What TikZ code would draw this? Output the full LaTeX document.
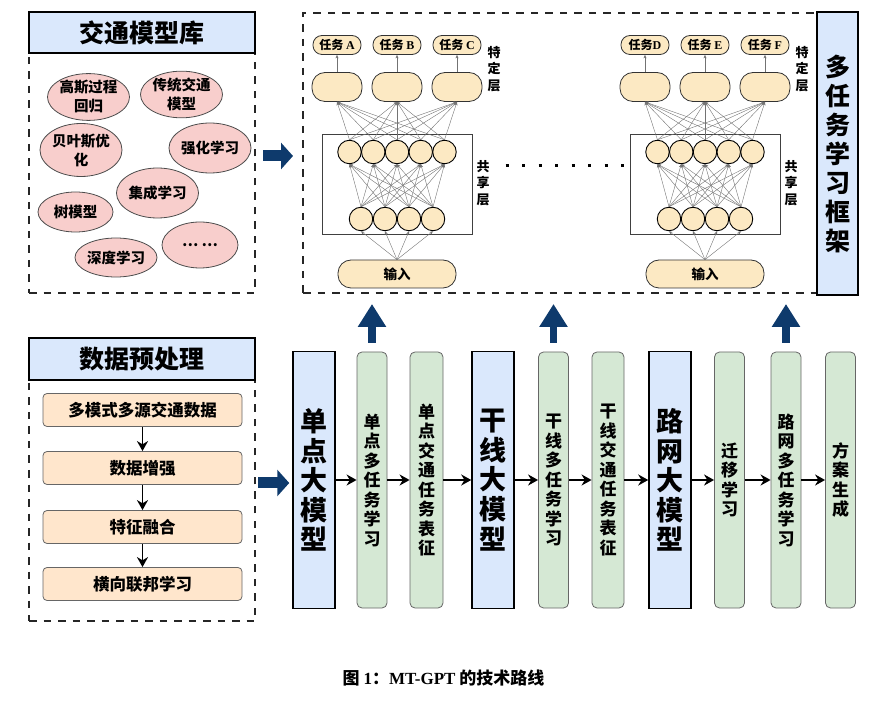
\documentclass[tikz,border=0pt]{standalone}
\usepackage{fontspec}
\setmainfont{Noto Sans CJK SC}
\newfontfamily\latinserif{Liberation Serif}
\usetikzlibrary{arrows.meta, positioning, shapes.geometric}

\definecolor{headblue}{HTML}{DAE8FC}
\definecolor{modelpink}{HTML}{F8CECC}
\definecolor{preporange}{HTML}{FFE6CC}
\definecolor{taskgreen}{HTML}{D5E8D4}
\definecolor{neuronfill}{HTML}{FCE9C3}
\definecolor{arrowblue}{HTML}{0E3A6C}

\newcommand{\tn}[1]{{\latinserif #1}}

\begin{document}
\begin{tikzpicture}
% Style
[
    x=1pt, y=-1pt, font=\bfseries,
    dashed frame/.style={draw=black!85, line width=2pt, dash pattern=on 7.5pt off 7pt},
    head box/.style={draw=black, line width=1.3pt, fill=headblue, inner sep=0pt,
        font=\fontsize{25}{30}\selectfont\bfseries},
    model/.style={ellipse, draw=black!70, fill=modelpink, line width=0.8pt, inner sep=0pt,
        align=center, font=\fontsize{14.5}{19}\selectfont\bfseries},
    prep step/.style={draw=black!60, fill=preporange, rounded corners=4pt, line width=0.8pt,
        minimum width=199pt, minimum height=33pt, font=\fontsize{16.5}{20}\selectfont\bfseries},
    big model/.style={draw=black, fill=headblue, line width=1.5pt, align=center,
        minimum width=42pt, minimum height=257pt, inner sep=0pt,
        font=\fontsize{27}{29.6}\selectfont\bfseries},
    task step/.style={draw=black!60, fill=taskgreen, rounded corners=5pt, line width=0.8pt,
        align=center, minimum width=30pt, minimum height=256pt, inner sep=0pt,
        font=\fontsize{17}{19.5}\selectfont\bfseries},
    neuron/.style={circle, draw=black, fill=neuronfill, line width=0.9pt,
        minimum size=23.5pt, inner sep=0pt},
    task pill/.style={draw=black!80, fill=neuronfill, rounded corners=9pt, line width=0.8pt,
        minimum width=48pt, minimum height=19pt, inner sep=0pt,
        font=\fontsize{12}{14}\selectfont\bfseries},
    layer pill/.style={draw=black!80, fill=neuronfill, rounded corners=13pt, line width=0.8pt,
        minimum width=50pt, minimum height=29pt, inner sep=0pt,
        font=\fontsize{13.5}{16}\selectfont\bfseries},
    shared box/.style={draw=black!75, line width=0.7pt, minimum width=150pt, minimum height=100pt},
    layer label/.style={align=center, inner sep=0pt, font=\fontsize{13}{16.5}\selectfont\bfseries},
    link/.style={draw=black!55, line width=0.4pt, -{Stealth[length=3.5pt, width=3pt]}},
    flow arrow/.style={draw=black, line width=1.8pt, -{Stealth[length=10pt, width=11pt]}},
    right arrow/.style={draw=arrowblue, line width=11pt, -{Triangle[length=12pt, width=26pt]}},
    up arrow/.style={draw=arrowblue, line width=7.5pt, -{Triangle[length=23pt, width=27pt]}}
]

\useasboundingbox (0,0) rectangle (884,708);

%================================== Prepare ==================================
\newcommand{\drawnetwork}[5]{
    % Draw: layers
    \node[shared box] (#2shared) at (#1, 184) {};
    \node[layer pill, minimum width=118pt, minimum height=28pt] (#2in) at (#1, 274) {输入};
    \foreach \i in {1, ..., 4} {
        \node[neuron] (#2l\i) at (#1-60+24*\i, 219) {};
    }
    \foreach \i in {1, ..., 5} {
        \node[neuron] (#2u\i) at (#1-71.25+23.75*\i, 152) {};
    }
    \foreach \i in {1, ..., 3} {
        \node[layer pill] (#2s\i) at (#1-120+60*\i, 87) {};
    }
    \node[task pill] (#2t1) at (#1-60, 45) {#3};
    \node[task pill] (#2t2) at (#1, 45) {#4};
    \node[task pill] (#2t3) at (#1+60, 45) {#5};
    \node[layer label] (#2speclab) at (#1+97, 69) {特\\定\\层};
    \node[layer label] (#2sharedlab) at (#1+86, 183) {共\\享\\层};

    % Draw: links
    \foreach \j in {1, ..., 4} {
        \draw[link] (#2in.north) -- (#2l\j.south);
        \foreach \i in {1, ..., 5} {
            \draw[link] (#2l\j.north) -- (#2u\i.south);
        }
    }
    \foreach \j in {1, ..., 5} {
        \foreach \i in {1, ..., 3} {
            \draw[link] (#2u\j.north) -- (#2s\i.south);
        }
    }
    \foreach \i in {1, ..., 3} {
        \draw[link] (#2s\i) -- (#2t\i);
    }
}

%=================================== Start ===================================
{
    % Draw: Traffic model library
    \node[dashed frame, minimum width=226pt, minimum height=240pt] (libbox) at (142, 173) {};
    \node[head box, minimum width=226pt, minimum height=41pt] (libhead) at (142, 32.5) {交通模型库};
    \node[model, minimum width=67pt, minimum height=40pt] (gauss) at (88.5, 97) {高斯过程\\回归};
    \node[model, minimum width=77pt, minimum height=44pt] (classic) at (181.5, 94.5) {传统交通\\模型};
    \node[model, minimum width=68pt, minimum height=53pt] (bayes) at (81, 150) {贝叶斯优\\化};
    \node[model, minimum width=74pt, minimum height=50pt] (rl) at (210, 148) {强化学习};
    \node[model, minimum width=75pt, minimum height=50pt] (ensemble) at (157.5, 193) {集成学习};
    \node[model, minimum width=75pt, minimum height=40pt] (tree) at (75.5, 212) {树模型};
    \node[model, minimum width=72pt, minimum height=39pt] (deep) at (116, 257.5) {深度学习};
    \node[model, minimum width=76pt, minimum height=46pt] (more) at (200, 245) {… …};

    % Draw: Multi-task learning framework
    \node[dashed frame, minimum width=514pt, minimum height=280pt] (mtlframe) at (560, 153) {};
    \node[head box, align=center, minimum width=41pt, minimum height=283pt,
        font=\fontsize{25}{29}\selectfont\bfseries] (mtllabel) at (837.5, 153.5)
        {多\\任\\务\\学\\习\\框\\架};
    \drawnetwork{397}{a}{任务 \tn{A}}{任务 \tn{B}}{任务 \tn{C}}
    \drawnetwork{705}{b}{任务\tn{D}}{任务 \tn{E}}{任务 \tn{F}}
    \draw[line width=3pt, dash pattern=on 3pt off 13.5pt] (asharedlab.east |- 0,166) ++(16,0) coordinate (dotsa)
        -- (dotsa -| bshared.west) coordinate (dotsb);

    % Draw: Data preprocessing
    \node[dashed frame, minimum width=226pt, minimum height=241pt] (prepbox) at (142, 500.5) {};
    \node[head box, minimum width=226pt, minimum height=42pt] (prephead) at (142, 359) {数据预处理};
    \node[prep step] (prep1) at (142.5, 410) {多模式多源交通数据};
    \node[prep step] (prep2) at (142.5, 468) {数据增强};
    \node[prep step] (prep3) at (142.5, 527) {特征融合};
    \node[prep step] (prep4) at (142.5, 584) {横向联邦学习};
    \foreach \a/\b in {prep1/prep2, prep2/prep3, prep3/prep4} {
        \draw[flow arrow] (\a) -- (\b);
    }

    % Draw: Pipeline
    \node[big model] (spmodel) at (314, 480) {单\\点\\大\\模\\型};
    \node[task step] (spmtl) at (372, 480) {单\\点\\多\\任\\务\\学\\习};
    \node[task step, minimum width=33pt] (sprep) at (426.5, 480) {单\\点\\交\\通\\任\\务\\表\\征};
    \node[big model] (armodel) at (493, 480) {干\\线\\大\\模\\型};
    \node[task step] (armtl) at (553.5, 480) {干\\线\\多\\任\\务\\学\\习};
    \node[task step, minimum width=32pt] (arrep) at (608, 480) {干\\线\\交\\通\\任\\务\\表\\征};
    \node[big model] (nwmodel) at (670, 480) {路\\网\\大\\模\\型};
    \node[task step] (transfer) at (729.5, 480) {迁\\移\\学\\习};
    \node[task step] (nwmtl) at (786, 480) {路\\网\\多\\任\\务\\学\\习};
    \node[task step] (plan) at (840.5, 480) {方\\案\\生\\成};
    \foreach \a/\b in {spmodel/spmtl, spmtl/sprep, sprep/armodel, armodel/armtl, armtl/arrep,
                       arrep/nwmodel, nwmodel/transfer, transfer/nwmtl, nwmtl/plan} {
        \draw[flow arrow] (\a) -- (\b);
    }

    % Draw: Big arrows
    \coordinate (libout) at (263, 156);
    \coordinate (prepout) at (258, 483);
    \draw[right arrow, shorten >=9pt] (libout) -- (libout -| mtlframe.west);
    \draw[right arrow, shorten >=3pt] (prepout) -- (prepout -| spmodel.west);
    \foreach \n in {spmtl, armtl, nwmtl} {
        \draw[up arrow, shorten <=9pt, shorten >=10pt] (\n.north) -- (\n.north |- mtlframe.south);
    }

    % Draw: Caption
    \node[font=\fontsize{17}{20}\selectfont\bfseries] (caption) at (443.5, 678)
        {图 \tn{1}：\tn{MT-GPT} 的技术路线};
}
%==================================== END ====================================

\end{tikzpicture}
\end{document}
